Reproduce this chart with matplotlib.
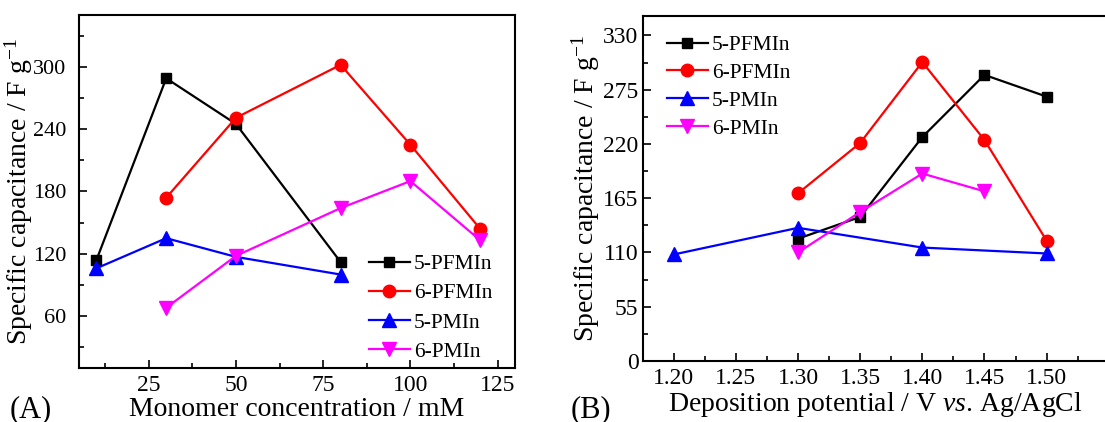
import numpy as np
import matplotlib
matplotlib.use('Agg')
import matplotlib.pyplot as plt
from matplotlib.ticker import MultipleLocator

plt.rcParams['font.family'] = ['Liberation Serif', 'DejaVu Serif']
plt.rcParams['mathtext.fontset'] = 'custom'
plt.rcParams['mathtext.rm'] = 'Liberation Serif'
plt.rcParams['mathtext.it'] = 'Liberation Serif:italic'

# (A) capacitance vs monomer concentration (mM)
conc_5pfmin = [10, 30, 50, 80]
cap_5pfmin = [114, 289, 245, 112]
conc_6pfmin = [30, 50, 80, 100, 120]
cap_6pfmin = [174, 251, 302, 225, 144]
conc_5pmin = [10, 30, 50, 80]
cap_5pmin = [106, 135, 117, 100]
conc_6pmin = [30, 50, 80, 100, 120]
cap_6pmin = [68, 118, 164, 190, 133]

# (B) capacitance vs deposition potential (V vs. Ag/AgCl)
pot_5pfmin = [1.30, 1.35, 1.40, 1.45, 1.50]
capb_5pfmin = [124, 146, 227, 290, 268]
pot_6pfmin = [1.30, 1.35, 1.40, 1.45, 1.50]
capb_6pfmin = [170, 221, 303, 224, 122]
pot_5pmin = [1.20, 1.30, 1.40, 1.50]
capb_5pmin = [108, 135, 115, 109]
pot_6pmin = [1.30, 1.35, 1.40, 1.45]
capb_6pmin = [110, 151, 190, 172]

labels = ['5-PFMIn', '6-PFMIn', '5-PMIn', '6-PMIn']
colors = ['black', '#ff0000', '#0000ff', '#ff00ff']
markers = ['s', 'o', '^', 'v']
msizes = [7.5, 9, 9.5, 9.5]


def style_axes(ax, ypad, ysize):
    ax.tick_params(which='both', direction='in', top=False, right=False, labelsize=17)
    ax.tick_params(which='major', length=6, width=1.2)
    ax.tick_params(which='minor', length=3.5, width=1.2)
    ax.tick_params(axis='y', which='major', pad=ypad, labelsize=ysize)
    ax.tick_params(axis='x', which='major', pad=5)
    for sp in ax.spines.values():
        sp.set_linewidth(1.5)


fig = plt.figure(figsize=(11.05, 4.22), dpi=100)

# panel A
ax1 = fig.add_axes([0.0715, 0.128, 0.3946, 0.8365])
data_a = [(conc_5pfmin, cap_5pfmin), (conc_6pfmin, cap_6pfmin),
          (conc_5pmin, cap_5pmin), (conc_6pmin, cap_6pmin)]
for (x, y), lab, c, m, ms in zip(data_a, labels, colors, markers, msizes):
    ax1.plot(x, y, color=c, marker=m, markersize=ms, linewidth=1.6, label=lab)
ax1.set_xlim(5, 130)
ax1.set_ylim(10, 350)
ax1.xaxis.set_minor_locator(MultipleLocator(12.5))
ax1.set_xticks([25, 50, 75, 100, 125])
ax1.yaxis.set_minor_locator(MultipleLocator(30))
ax1.set_yticks([60, 120, 180, 240, 300])
style_axes(ax1, 9, 16)
ax1.set_xlabel('Monomer concentration / mM', fontsize=20, labelpad=1)
ax1.set_ylabel(r'Specific capacitance / F g$^{\mathregular{-1}}$', fontsize=20)
ax1.yaxis.set_label_coords(-0.1, 0.5)
ax1.legend(loc='lower right', bbox_to_anchor=(0.993, -0.037), frameon=False,
           fontsize=15.5, handlelength=1.9, handletextpad=0.2, labelspacing=0.42)
fig.text(0.009, 0.012, '(A)', fontsize=22)

# panel B
ax2 = fig.add_axes([0.5816, 0.1445, 0.4218, 0.8183])
data_b = [(pot_5pfmin, capb_5pfmin), (pot_6pfmin, capb_6pfmin),
          (pot_5pmin, capb_5pmin), (pot_6pmin, capb_6pmin)]
for (x, y), lab, c, m, ms in zip(data_b, labels, colors, markers, msizes):
    ax2.plot(x, y, color=c, marker=m, markersize=ms, linewidth=1.6, label=lab)
ax2.set_xlim(1.175, 1.55)
ax2.set_ylim(0, 350)
ax2.xaxis.set_minor_locator(MultipleLocator(0.025))
ax2.set_xticks([1.20, 1.25, 1.30, 1.35, 1.40, 1.45, 1.50])
ax2.set_xticklabels(['1.20', '1.25', '1.30', '1.35', '1.40', '1.45', '1.50'])
ax2.yaxis.set_minor_locator(MultipleLocator(27.5))
ax2.set_yticks([0, 55, 110, 165, 220, 275, 330])
style_axes(ax2, 3, 17)
ax2.set_xlabel(r'Deposition potential / V $\mathit{vs}$. Ag/AgCl', fontsize=20, labelpad=1)
ax2.set_ylabel(r'Specific capacitance / F g$^{\mathregular{-1}}$', fontsize=20)
ax2.yaxis.set_label_coords(-0.088, 0.5)
ax2.legend(loc='upper left', bbox_to_anchor=(0.01, 1.0), frameon=False,
           fontsize=15.5, handlelength=1.9, handletextpad=0.2, labelspacing=0.36)
fig.text(0.516, 0.012, '(B)', fontsize=22)

fig.savefig('out.png', dpi=100)
